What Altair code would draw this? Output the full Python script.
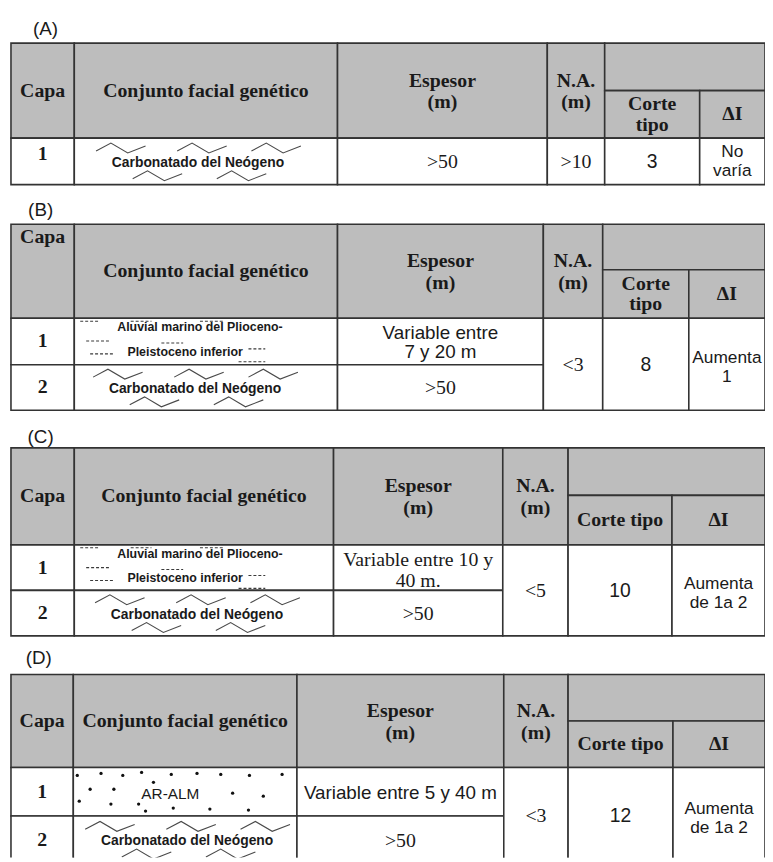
import altair as alt
import pandas as pd

# ---------------- content ----------------
PANELS = ["(A)", "(B)", "(C)", "(D)"]
H_CAPA = "Capa"
H_CONJ = "Conjunto facial genético"
H_ESP = ["Espesor", "(m)"]
H_NA = ["N.A.", "(m)"]
H_DI = "ΔI"
H_CORTE = [["Corte", "tipo"], ["Corte", "tipo"], ["Corte tipo"], ["Corte tipo"]]
CAPA = [["1"], ["1", "2"], ["1", "2"], ["1", "2"]]
FACIES = [["carb"], ["aluv", "carb"], ["aluv", "carb"], ["arena", "carb"]]
CARB_TEXT = "Carbonatado del Neógeno"
ALUV_TEXT = ["Aluvial marino del Plioceno-", "Pleistoceno inferior"]
ARENA_TEXT = "AR-ALM"
ESPESOR = [
    [[">50"]],
    [["Variable entre", "7 y 20 m"], [">50"]],
    [["Variable entre 10 y", "40 m."], [">50"]],
    [["Variable entre 5 y 40 m"], [">50"]],
]
ESPESOR_FONT = [["serif"], ["sans", "serif"], ["serif", "serif"], ["sans", "serif"]]
NA = [">10", "<3", "<5", "<3"]
CORTE = ["3", "8", "10", "12"]
DELTA_I = [["No", "varía"], ["Aumenta", "1"], ["Aumenta", "de 1a 2"], ["Aumenta", "de 1a 2"]]

# ---------------- layout (page pixels) ----------------
RIGHT = 773
COLS = [
    [11, 75, 341, 553, 611, 707],
    [11, 75, 341, 549, 609, 696],
    [11, 75, 337, 508, 574, 679],
    [11, 74, 300, 509, 574, 680],
]
# top, sub-header line, header bottom, row divider, bottom
ROWS = [
    [39, 87, 135, None, 182],
    [222, 268, 317, 364, 410],
    [448, 496, 546, 592, 638],
    [677, 724, 771, 820, 868],
]
LABEL_POS = [(46, 25), (41, 208), (41, 437), (39, 660)]
CARB_X = [200, 197, 199, 189]
GRAY = "#bdbdbd"
LINE = "#333333"

# pattern templates
ZIG = [(0, 8), (15, 0), (32, 10), (50, 3)]
ZIG_TOP_DX, ZIG_TOP_DY = [-103, -21, 54], -20
ZIG_BOT_DX, ZIG_BOT_DY = [-66, 19], 8
ALUV_SYM = [(6, 26, 3), (57, 78, 3), (127, 150, 3), (12, 37, 23), (88, 110, 25),
            (16, 39, 36), (176, 193, 31), (166, 193, 44)]
ARENA_DOTS = [(4, 8), (28, 6), (50, 8), (69, 5), (81, 15), (99, 7), (125, 6), (149, 7),
              (178, 8), (211, 7), (17, 22), (41, 22), (6, 34), (38, 37), (66, 37),
              (73, 44), (101, 41), (138, 42), (161, 26), (192, 29), (177, 43)]

cells, texts, zigs, syms, dots = [], [], [], [], []


def add_text(x, y, lines, fam, wt, size, lh):
    n = len(lines)
    for i, s in enumerate(lines):
        texts.append(dict(x=x, y=y + (i - (n - 1) / 2) * lh, text=s, fam=fam, wt=wt, size=size))


zid = 0
for t in range(4):
    c = COLS[t]
    top, sub, hdr, div, bot = ROWS[t]
    edges = c + [RIGHT]
    # header cells
    for i in range(4):
        cells.append(dict(x=edges[i], x2=edges[i + 1], y=top, y2=hdr, fill=GRAY))
    cells.append(dict(x=c[4], x2=RIGHT, y=top, y2=sub, fill=GRAY))
    cells.append(dict(x=c[4], x2=c[5], y=sub, y2=hdr, fill=GRAY))
    cells.append(dict(x=c[5], x2=RIGHT, y=sub, y2=hdr, fill=GRAY))
    # body cells
    if div is None:
        row_spans = [(hdr, bot)]
    else:
        row_spans = [(hdr, div), (div, bot)]
    for i in range(3):
        for (a, b) in row_spans:
            cells.append(dict(x=edges[i], x2=edges[i + 1], y=a, y2=b, fill="white"))
    for i in range(3, 6):
        cells.append(dict(x=edges[i], x2=edges[i + 1], y=hdr, y2=bot, fill="white"))

    # panel label
    lx, ly = LABEL_POS[t]
    add_text(lx, ly, [PANELS[t]], "sans", "normal", 19, 20)

    # header texts
    hc = (top + hdr) / 2
    add_text((c[0] + c[1]) / 2, top + 13 if t == 1 else hc, [H_CAPA], "serif", "bold", 20, 22)
    add_text((c[1] + c[2]) / 2, hc, [H_CONJ], "serif", "bold", 20, 22)
    add_text((c[2] + c[3]) / 2, hc + 1, H_ESP, "serif", "bold", 20, 22)
    add_text((c[3] + c[4]) / 2, hc + 1, H_NA, "serif", "bold", 20, 22)
    add_text((c[4] + c[5]) / 2, (sub + hdr) / 2, H_CORTE[t], "serif", "bold", 20, 21)
    add_text((c[5] + RIGHT) / 2, (sub + hdr) / 2, [H_DI], "serif", "bold", 20, 22)

    # body
    for r, (a, b) in enumerate(row_spans):
        rc = (a + b) / 2
        add_text((c[0] + c[1]) / 2, rc - 7 if t == 0 else rc, [CAPA[t][r]], "serif", "bold", 20, 22)
        kind = FACIES[t][r]
        if kind == "carb":
            tx, ty = CARB_X[t], rc + 1.5
            add_text(tx, ty, [CARB_TEXT], "sans", "bold", 14, 16)
            for dxs, dy in ((ZIG_TOP_DX, ZIG_TOP_DY), (ZIG_BOT_DX, ZIG_BOT_DY)):
                for dx in dxs:
                    for k, (px, py) in enumerate(ZIG):
                        zigs.append(dict(x=tx + dx + px, y=ty + dy + py, g=zid, o=k))
                    zid += 1
        elif kind == "aluv":
            add_text(c[1] + 127, a + 9, [ALUV_TEXT[0]], "sans", "bold", 12.5, 14)
            add_text(c[1] + 112, a + 34, [ALUV_TEXT[1]], "sans", "bold", 12.5, 14)
            for (d1, d2, dy) in ALUV_SYM:
                syms.append(dict(x=c[1] + d1, x2=c[1] + d2, y=a + dy))
        else:
            add_text(c[1] + 98, a + 27, [ARENA_TEXT], "sans", "normal", 15.5, 17)
            for (dx, dy) in ARENA_DOTS:
                dots.append(dict(x=c[1] + dx, y=a + dy))
        esp = ESPESOR[t][r]
        fam = ESPESOR_FONT[t][r]
        if t == 2 and r == 0:
            add_text((c[2] + c[3]) / 2, rc + 3, esp, fam, "normal", 20, 21)
        else:
            add_text((c[2] + c[3]) / 2, rc + 1, esp, fam, "normal", 19 if fam == "sans" else 20, 20)
    mc = (hdr + bot) / 2
    add_text((c[3] + c[4]) / 2, mc + 1, [NA[t]], "serif", "normal", 20, 20)
    add_text((c[4] + c[5]) / 2, mc + 1, [CORTE[t]], "sans", "normal", 19.5, 20)
    add_text((c[5] + RIGHT) / 2, mc + (0.5 if t == 0 else 3), DELTA_I[t], "sans", "normal", 17.5, 19)

cells_df = pd.DataFrame(cells)
texts_df = pd.DataFrame(texts)
zigs_df = pd.DataFrame(zigs)
syms_df = pd.DataFrame(syms)
dots_df = pd.DataFrame(dots)

X = alt.X("x:Q", scale=alt.Scale(domain=[8, 773], nice=False, zero=False), axis=None)
Y = alt.Y("y:Q", scale=alt.Scale(domain=[8, 862], nice=False, zero=False, reverse=True), axis=None)

rects = alt.Chart(cells_df).mark_rect(stroke=LINE, strokeWidth=1.6, clip=True).encode(
    x=X, x2="x2:Q", y=Y, y2="y2:Q", fill=alt.Fill("fill:N", scale=None)
)

zig_layer = alt.Chart(zigs_df).mark_line(color="#4a4a4a", strokeWidth=1.1, clip=True).encode(
    x=X, y=Y, detail="g:N", order="o:Q"
)

sym_layer = alt.Chart(syms_df).mark_rule(color="#3a3a3a", strokeWidth=1.1, strokeDash=[3, 2]).encode(
    x=X, x2="x2:Q", y=Y
)

dot_layer = alt.Chart(dots_df).mark_circle(color="#111111", size=11, opacity=1).encode(x=X, y=Y)

FONTS = {"serif": "Liberation Serif", "sans": "Liberation Sans"}
text_layers = []
for fam in ("serif", "sans"):
    for wt in ("bold", "normal"):
        sub = texts_df[(texts_df.fam == fam) & (texts_df.wt == wt)]
        if len(sub) == 0:
            continue
        text_layers.append(
            alt.Chart(sub).mark_text(font=FONTS[fam], fontWeight=wt, color="#1a1a1a",
                                     align="center", baseline="middle").encode(
                x=X, y=Y, text="text:N", size=alt.Size("size:Q", scale=None)
            )
        )

chart = alt.layer(rects, zig_layer, sym_layer, dot_layer, *text_layers).properties(
    width=765, height=854, padding=0,
    autosize=alt.AutoSizeParams(type="none"),
    background="white",
).configure_view(stroke=None)

chart.save("out.html", embed_options={"renderer": "svg", "actions": False})
